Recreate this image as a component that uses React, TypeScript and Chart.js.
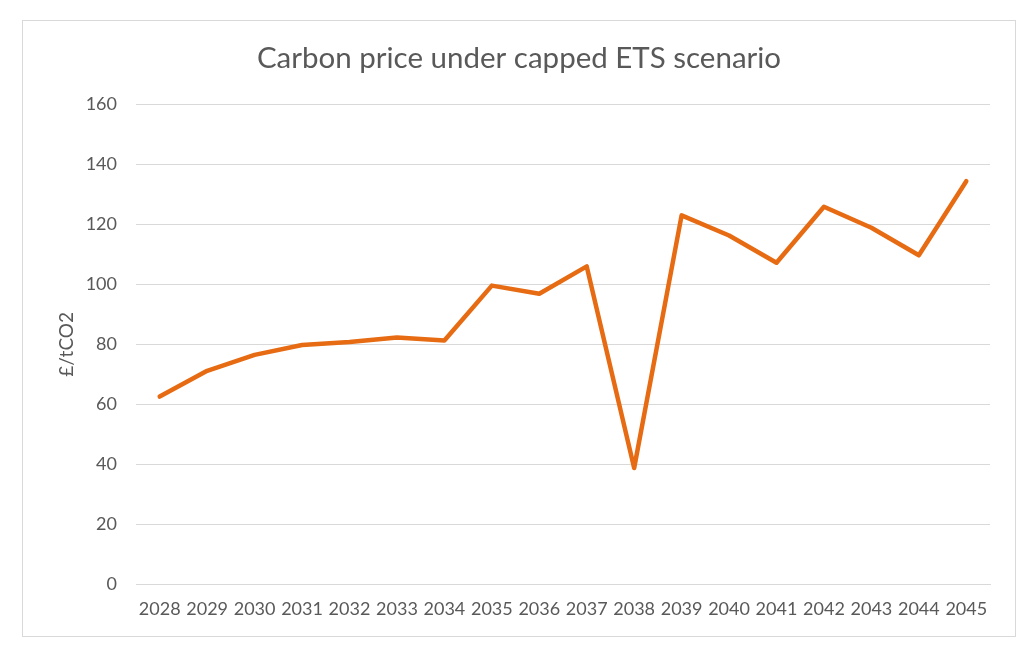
import React, { useEffect, useRef } from "react";
import { Chart, registerables } from "chart.js";

Chart.register(...registerables);

const years = [
  "2028", "2029", "2030", "2031", "2032", "2033", "2034", "2035", "2036",
  "2037", "2038", "2039", "2040", "2041", "2042", "2043", "2044", "2045",
];

const carbonPrice = [
  62.6, 71.2, 76.5, 79.8, 80.8, 82.3, 81.3, 99.6, 96.9,
  106.0, 38.8, 123.0, 116.3, 107.2, 125.9, 118.9, 109.7, 134.4,
];

const yMin = 0;
const yMax = 160;
const yStep = 20;

const titleText = "Carbon price under capped ETS scenario";
const yAxisTitle = "£/tCO2";

const textColor = "#595959";
const gridColor = "#d9d9d9";
const lineColor = "#e66b13";
const fontFamily = "Lato, 'Open Sans', sans-serif";

export default function App() {
  const canvasRef = useRef<HTMLCanvasElement | null>(null);

  useEffect(() => {
    if (!canvasRef.current) return;
    const chart = new Chart(canvasRef.current, {
      type: "line",
      data: {
        labels: years,
        datasets: [
          {
            label: "Carbon price",
            data: carbonPrice,
            borderColor: lineColor,
            backgroundColor: lineColor,
            borderWidth: 4.5,
            borderCapStyle: "round",
            borderJoinStyle: "round",
            pointRadius: 0,
            tension: 0,
            fill: false,
          },
        ],
      },
      options: {
        animation: false,
        responsive: false,
        maintainAspectRatio: false,
        layout: { padding: { top: 0, right: 25, bottom: 2, left: 25 } },
        plugins: {
          legend: { display: false },
          tooltip: { enabled: false },
          title: {
            display: true,
            text: titleText,
            color: textColor,
            font: { family: fontFamily, size: 29.5, weight: "normal" },
            padding: { top: 20, bottom: 28 },
          },
        },
        scales: {
          x: {
            offset: true,
            grid: { display: false, drawTicks: false },
            border: { display: true, color: gridColor, width: 1 },
            ticks: {
              color: textColor,
              font: { family: fontFamily, size: 18 },
              padding: 14,
              maxRotation: 0,
              autoSkip: false,
            },
          },
          y: {
            min: yMin,
            max: yMax,
            grid: { color: gridColor, lineWidth: 1, drawTicks: false },
            border: { display: false },
            ticks: {
              stepSize: yStep,
              color: textColor,
              font: { family: fontFamily, size: 18 },
              padding: 19,
            },
            title: {
              display: true,
              text: yAxisTitle,
              color: textColor,
              font: { family: fontFamily, size: 19 },
              padding: { top: 7, bottom: 0 },
            },
            afterFit: (scale: any) => {
              scale.width = 88;
            },
          },
        },
      },
    });
    return () => chart.destroy();
  }, []);

  return (
    <div
      style={{
        position: "absolute",
        left: 22,
        top: 20,
        width: 992,
        height: 615,
        border: `1px solid ${gridColor}`,
        background: "#ffffff",
      }}
    >
      <canvas ref={canvasRef} width={992} height={615} style={{ display: "block" }} />
    </div>
  );
}
